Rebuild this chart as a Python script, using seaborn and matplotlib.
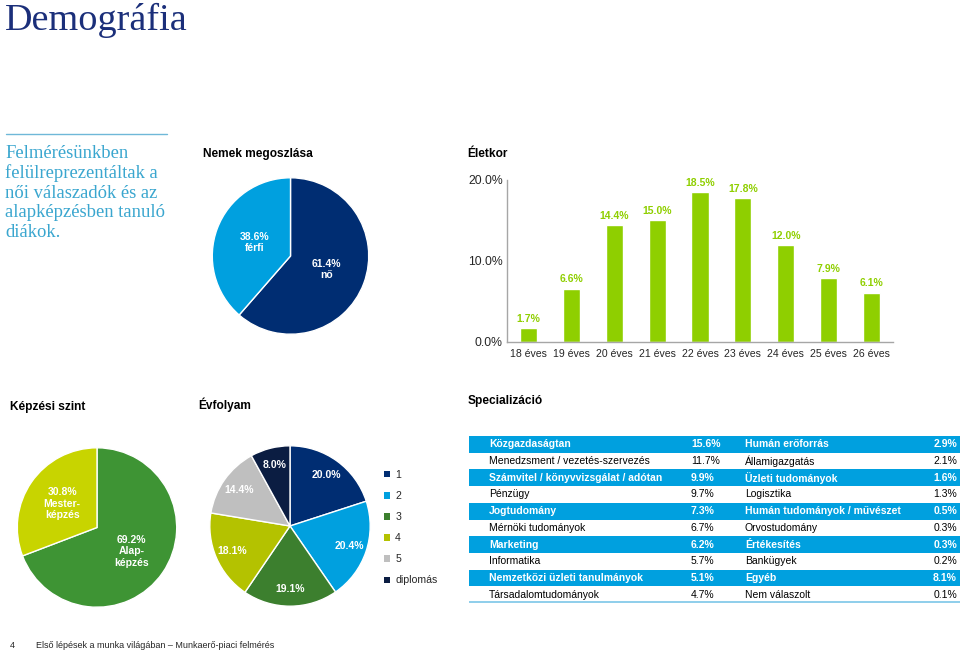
import matplotlib
matplotlib.use("Agg")
import matplotlib.pyplot as plt
import seaborn as sns
import numpy as np
import pandas as pd

# ---- data ----
gender_labels = ["nő", "férfi"]
gender_values = [61.4, 38.6]

age_labels = ["18 éves", "19 éves", "20 éves", "21 éves", "22 éves",
              "23 éves", "24 éves", "25 éves", "26 éves"]
age_values = [1.7, 6.6, 14.4, 15.0, 18.5, 17.8, 12.0, 7.9, 6.1]

level_labels = ["Alap-\nképzés", "Mester-\nképzés"]
level_values = [69.2, 30.8]

year_labels = ["1", "2", "3", "4", "5", "diplomás"]
year_values = [20.0, 20.4, 19.1, 18.1, 14.4, 8.0]

spec_left = ["Közgazdaságtan", "Menedzsment / vezetés-szervezés",
             "Számvitel / könyvvizsgálat / adótan", "Pénzügy", "Jogtudomány",
             "Mérnöki tudományok", "Marketing", "Informatika",
             "Nemzetközi üzleti tanulmányok", "Társadalomtudományok"]
spec_left_values = [15.6, 11.7, 9.9, 9.7, 7.3, 6.7, 6.2, 5.7, 5.1, 4.7]
spec_right = ["Humán erőforrás", "Államigazgatás", "Üzleti tudományok",
              "Logisztika", "Humán tudományok / művészet", "Orvostudomány",
              "Értékesítés", "Bankügyek", "Egyéb", "Nem válaszolt"]
spec_right_values = [2.9, 2.1, 1.6, 1.3, 0.5, 0.3, 0.3, 0.2, 8.1, 0.1]

intro_lines = ["Felmérésünkben", "felülreprezentáltak a", "női válaszadók és az",
               "alapképzésben tanuló", "diákok."]

# ---- style ----
sns.set_style("white")
plt.rcParams['font.family'] = ['Liberation Sans', 'DejaVu Sans']

W, H = 960, 653
NAVY = "#002D72"
LBLUE = "#00A0DF"
GREEN_BAR = "#8FCF00"
fig = plt.figure(figsize=(W / 100, H / 100), dpi=100)


def fx(x):
    return x / W


def fy(y):
    return 1 - y / H


def px_axes(x0, y0, x1, y1):
    return fig.add_axes([fx(x0), fy(y1), (x1 - x0) / W, (y1 - y0) / H])


# ---- titles and text ----
fig.text(fx(5), fy(30), "Demográfia", family="Liberation Serif", fontsize=27.5,
         color="#1B2F7A", va="baseline")
fig.add_artist(plt.Line2D([fx(6), fx(167)], [fy(134), fy(134)], color="#6FB8D8", lw=1))
for i, line in enumerate(intro_lines):
    fig.text(fx(5), fy(158 + 19.8 * i), line, family="Liberation Serif",
             fontsize=13.4, color="#3AA6CF", va="baseline")

header_kw = dict(fontsize=8.6, fontweight="bold", va="baseline", color="black")
fig.text(fx(203), fy(157), "Nemek megoszlása", **header_kw)
fig.text(fx(467), fy(157), "Életkor", **header_kw)
fig.text(fx(10), fy(410), "Képzési szint", **header_kw)
fig.text(fx(198), fy(409), "Évfolyam", **header_kw)
fig.text(fx(468), fy(404), "Specializáció", **header_kw)

fig.text(fx(10), fy(648), "4", fontsize=6.5, va="baseline")
fig.text(fx(36), fy(648), "Első lépések a munka világában – Munkaerő-piaci felmérés",
         fontsize=6.5, va="baseline")


def draw_pie(ax, values, colors, labels, dist):
    wedges, _ = ax.pie(values, colors=colors, startangle=90, counterclock=False,
                       radius=1, wedgeprops=dict(edgecolor="white", linewidth=1))
    ax.set_xlim(-1.01, 1.01)
    ax.set_ylim(-1.01, 1.01)
    total = sum(values)
    start = 90.0
    for v, lab in zip(values, labels):
        mid = np.deg2rad(start - v / total * 180)
        start -= v / total * 360
        txt = f"{v:.1f}%" + (f"\n{lab}" if lab else "")
        ax.text(dist * np.cos(mid), dist * np.sin(mid), txt, ha="center", va="center",
                color="white", fontsize=7.5, fontweight="bold", linespacing=1.15)
    return wedges


# ---- gender pie ----
ax_g = px_axes(211.5, 177, 369.5, 335)
draw_pie(ax_g, gender_values, [NAVY, LBLUE], gender_labels, 0.49)

# ---- age bar chart ----
ax_b = px_axes(507, 180, 893, 342)
age_df = pd.DataFrame({"age": age_labels, "pct": age_values})
sns.barplot(data=age_df, x="age", y="pct", color=GREEN_BAR, saturation=1,
            width=0.4, ax=ax_b)
ax_b.bar_label(ax_b.containers[0], fmt="%.1f%%", padding=3, color=GREEN_BAR,
               fontsize=7.5, fontweight="bold")
ax_b.set_ylim(0, 20)
ax_b.set_xlim(-0.5, 8.5)
ax_b.set_yticks([0, 10, 20])
ax_b.set_yticklabels([f"{t:.1f}%" for t in [0, 10, 20]])
ax_b.set_xlabel("")
ax_b.set_ylabel("")
ax_b.set_xticks(np.arange(-0.5, 9, 1), minor=True)
ax_b.tick_params(axis="x", which="major", length=0, labelsize=7.6, pad=5)
ax_b.tick_params(axis="x", which="minor", length=4, color="#A6A6A6", direction="out")
ax_b.tick_params(axis="y", length=3, color="#A6A6A6", direction="out", labelsize=8.8, pad=0)
for s in ["top", "right"]:
    ax_b.spines[s].set_visible(False)
for s in ["left", "bottom"]:
    ax_b.spines[s].set_color("#A6A6A6")
    ax_b.spines[s].set_linewidth(1)
for lbl in ax_b.texts:
    lbl.set_clip_on(False)

# ---- level pie ----
ax_l = px_axes(16.5, 447, 177.5, 608)
draw_pie(ax_l, level_values, ["#3E9434", "#C8D400"], level_labels, 0.53)

# ---- year pie ----
ax_y = px_axes(209, 445, 371, 607)
year_colors = [NAVY, LBLUE, "#3C7F2E", "#B4C200", "#BFBFBF", "#0B1D42"]
wedges = draw_pie(ax_y, year_values, year_colors, [""] * 6, 0.78)
leg = ax_y.legend(wedges, year_labels, loc="upper left",
                  bbox_to_anchor=(fx(384), fy(470)), bbox_transform=fig.transFigure,
                  frameon=False, fontsize=7.6, handlelength=0.55, handleheight=0.55,
                  handletextpad=0.5, labelspacing=1.05, borderaxespad=0, borderpad=0)
for h in leg.legend_handles:
    h.set_edgecolor("none")

# ---- specialization table ----
ax_t = px_axes(469, 436, 960, 603)
ax_t.set_xlim(469, 960)
ax_t.set_ylim(603, 436)
ax_t.axis("off")
row_h = (603 - 436) / 10
for i in range(10):
    yc = 436 + row_h * (i + 0.5)
    shaded = i % 2 == 0
    if shaded:
        ax_t.barh(yc, 491, left=469, height=row_h, color=LBLUE, edgecolor="none")
    kw = dict(fontsize=7.5, va="center", color="white" if shaded else "black",
              fontweight="bold" if shaded else "normal")
    ax_t.text(489, yc, spec_left[i], **kw)
    ax_t.text(691, yc, f"{spec_left_values[i]:.1f}%", **kw)
    ax_t.text(745, yc, spec_right[i], **kw)
    ax_t.text(957, yc, f"{spec_right_values[i]:.1f}%", ha="right", **kw)
ax_t.axhline(602, color="#7CC6E8", lw=1.2)

fig.savefig("out.png", dpi=100)
